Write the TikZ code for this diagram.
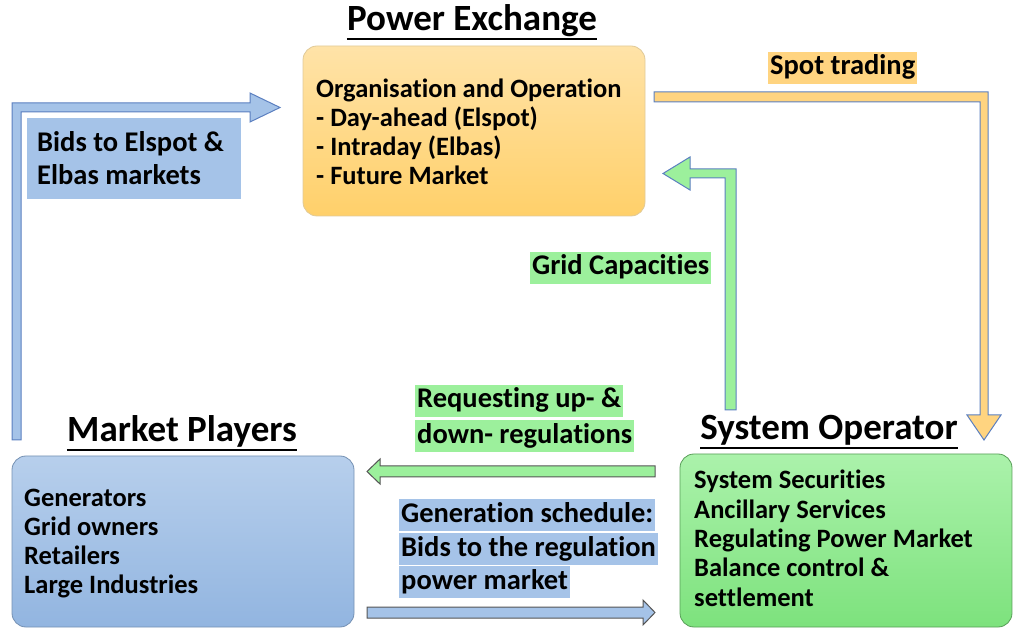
\documentclass[tikz,border=0pt]{standalone}
\usepackage{fontspec}
\setmainfont{Carlito}[Ligatures={NoCommon}]
\definecolor{pxtop}{HTML}{FFE3A8}
\definecolor{pxbot}{HTML}{FFD06A}
\definecolor{mptop}{HTML}{B7CFEC}
\definecolor{mpbot}{HTML}{92B5E0}
\definecolor{sotop}{HTML}{ABF2AB}
\definecolor{sobot}{HTML}{7DE27D}
\definecolor{lblue}{HTML}{A5C3E8}
\definecolor{lorange}{HTML}{FFD480}
\definecolor{lgreen}{HTML}{9CF09C}
\definecolor{edgeblue}{HTML}{5B7FC0}
\definecolor{edgegray}{HTML}{555555}
\tikzset{
  box/.style={rounded corners=14pt, line width=0.8pt},
  title/.style={font=\fontsize{37}{44}\selectfont\bfseries, inner sep=0pt, anchor=base},
  body/.style={font=\fontsize{26.5}{29}\selectfont\bfseries, inner sep=0pt, anchor=base west},
  lbl/.style={font=\fontsize{28.5}{33}\selectfont\bfseries, inner xsep=2pt, inner ysep=0pt, text height=23pt, text depth=9pt, anchor=base west},
  barrow/.style={line width=1pt, line join=miter}
}
\begin{document}
\begin{tikzpicture}[x=1pt,y=-1pt]
\useasboundingbox (0,0) rectangle (1013,628);
% boxes
\draw[box, draw=pxbot!80!black!60, top color=pxtop, bottom color=pxbot] (303,46) rectangle (645,216);
\draw[box, draw=mpbot!80!black, top color=mptop, bottom color=mpbot] (12,456) rectangle (354,627);
\draw[box, draw=sobot!70!black, top color=sotop, bottom color=sobot] (680,454) rectangle (1012,627);
% titles
\node[title] (tpx) at (472,31) {Power Exchange};
\node[title] (tmp) at (182,442) {Market Players};
\node[title] (tso) at (829,440) {System Operator};
\foreach \t in {tpx,tmp,tso}{
  \draw[line width=1.8pt] ([yshift=-8pt]\t.base west) -- ([yshift=-8pt]\t.base east);
}
% body texts
\foreach \t [count=\i] in {Organisation and Operation,- Day-ahead (Elspot),- Intraday (Elbas),- Future Market}
  \node[body] (bpx\i) at (316,{98+(\i-1)*29}) {\t};
\foreach \t [count=\i] in {Generators,Grid owners,Retailers,Large Industries}
  \node[body] (bmp\i) at (24,{506+(\i-1)*29.3}) {\t};
\foreach \t [count=\i] in {System Securities,Ancillary Services,Regulating Power Market,Balance control \&,settlement}
  \node[body] (bso\i) at (694,{489+(\i-1)*29.3}) {\t};
% block arrows
\draw[barrow, draw=edgeblue, fill=lblue] (12,440) -- (12,103) -- (250,103) -- (250,93) -- (280,107.5) -- (250,122) -- (250,112) -- (21,112) -- (21,440) -- cycle;
\draw[barrow, draw=edgeblue, fill=lorange] (654,92) -- (988,92) -- (988,415) -- (1001,415) -- (984,440) -- (967,415) -- (980,415) -- (980,102) -- (654,102) -- cycle;
\draw[barrow, draw=edgeblue, fill=lgreen] (725,410) -- (725,178) -- (690,178) -- (690,190) -- (663,173.5) -- (690,157) -- (690,169) -- (736,169) -- (736,410) -- cycle;
\draw[barrow, draw=edgegray, fill=lgreen] (655,466) -- (380,466) -- (380,459) -- (367,471.5) -- (380,484) -- (380,477) -- (655,477) -- cycle;
\draw[barrow, draw=edgegray, fill=lblue] (367,607) -- (643,607) -- (643,600) -- (655,612.5) -- (643,625) -- (643,618) -- (367,618) -- cycle;
% labels
\fill[lblue] (27,118) rectangle (241,199);
\node[lbl] (l1) at (35,152) {Bids to Elspot \&};
\node[lbl] (l2) at (35,185) {Elbas markets};
\node[lbl, fill=lorange] (l3) at (768,75) {Spot trading};
\node[lbl, fill=lgreen] (l4) at (530,275) {Grid Capacities};
\node[lbl, fill=lgreen] (l5) at (415,408) {Requesting up- \&};
\node[lbl, fill=lgreen] (l6) at (415,443) {down- regulations};
\node[lbl, fill=lblue] (l7) at (399,522) {Generation schedule:};
\node[lbl, fill=lblue] (l8) at (399,556) {Bids to the regulation};
\node[lbl, fill=lblue] (l9) at (399,589) {power market};
\end{tikzpicture}
\end{document}
